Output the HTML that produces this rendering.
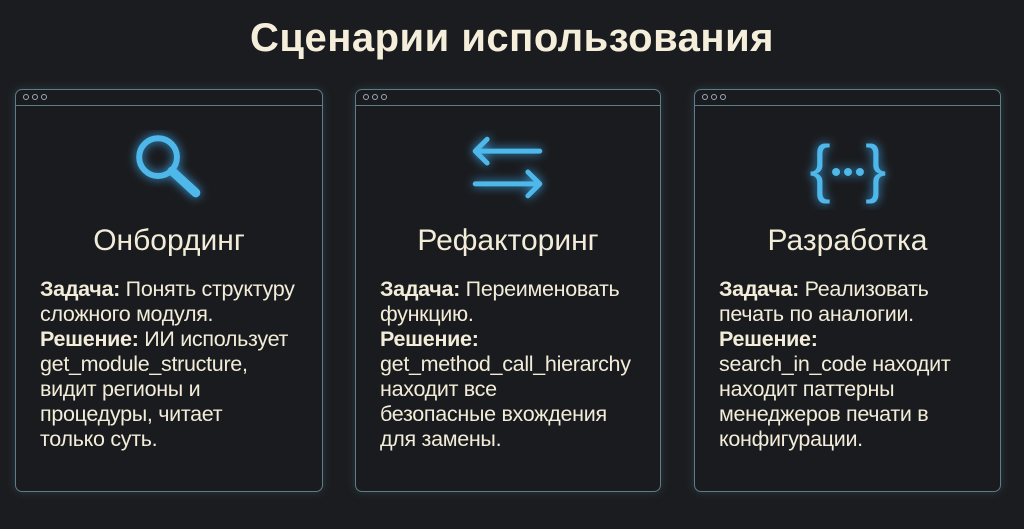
<!DOCTYPE html>
<html><head><meta charset="utf-8"><style>
*{margin:0;padding:0;box-sizing:border-box}
body{width:1024px;height:529px;background:#1b1c1f;font-family:"Liberation Sans","DejaVu Sans",sans-serif;position:relative;overflow:hidden;color:#f2ecd8}
h1{position:absolute;top:16px;left:0;width:1024px;text-align:center;font-size:40px;font-weight:bold;color:#f4eedb;letter-spacing:0.5px}
.card{position:absolute;top:89px;height:403px;border:1.5px solid #5d7d89;border-radius:7px;background:#1a1b1e;box-shadow:0 0 10px rgba(90,150,170,0.25)}
.bar{height:16px;border-bottom:1.5px solid #5d7d89;position:relative}
.dot{position:absolute;top:4px;width:6px;height:6px;border:1px solid #9ab;border-radius:50%}
.icon{position:absolute;top:40px;left:0;width:100%;height:80px}
.t{position:absolute;top:134px;width:100%;text-align:center;font-size:30px;color:#f2ecd8}
.b{position:absolute;top:187px;left:24px;font-size:21.5px;line-height:25px;color:#f2ecd8;letter-spacing:-0.3px}
.b b{font-weight:bold}
</style></head><body>
<h1>Сценарии использования</h1>

<div class="card" style="left:15px;width:308px">
<div class="bar"><span class="dot" style="left:7px"></span><span class="dot" style="left:16px"></span><span class="dot" style="left:25px"></span></div>
<svg class="icon" viewBox="0 0 308 80"><g stroke="#4fb8ea" fill="none" stroke-linecap="round" style="filter:drop-shadow(0 0 5px #3aa0e0)"><circle cx="143" cy="27" r="19" stroke-width="6"/><line x1="157" y1="41" x2="181" y2="63" stroke-width="9"/></g></svg>
<div class="t">Онбординг</div>
<div class="b"><b>Задача:</b> Понять структуру<br>сложного модуля.<br><b>Решение:</b> ИИ использует<br>get_module_structure,<br>видит регионы и<br>процедуры, читает<br>только суть.</div>
</div>

<div class="card" style="left:355px;width:306px">
<div class="bar"><span class="dot" style="left:7px"></span><span class="dot" style="left:16px"></span><span class="dot" style="left:25px"></span></div>
<svg class="icon" viewBox="0 0 306 80"><g stroke="#4fb8ea" fill="none" stroke-width="5" stroke-linecap="round" stroke-linejoin="round" style="filter:drop-shadow(0 0 5px #3aa0e0)"><path d="M120 21 H185 M132 9 L120 21 L132 33"/><path d="M120 54 H185 M173 42 L185 54 L173 66"/></g></svg>
<div class="t">Рефакторинг</div>
<div class="b"><b>Задача:</b> Переименовать<br>функцию.<br><b>Решение:</b><br>get_method_call_hierarchy<br>находит все<br>безопасные вхождения<br>для замены.</div>
</div>

<div class="card" style="left:694px;width:307px">
<div class="bar"><span class="dot" style="left:7px"></span><span class="dot" style="left:16px"></span><span class="dot" style="left:25px"></span></div>
<svg class="icon" viewBox="0 0 307 80"><g style="filter:drop-shadow(0 0 5px #3aa0e0)" fill="#4fb8ea"><text x="126" y="60" text-anchor="middle" font-family="Liberation Sans" font-size="64" fill="#4fb8ea">{</text><text x="182" y="60" text-anchor="middle" font-family="Liberation Sans" font-size="64" fill="#4fb8ea">}</text><circle cx="142" cy="42" r="4"/><circle cx="154" cy="42" r="4"/><circle cx="166" cy="42" r="4"/></g></svg>
<div class="t">Разработка</div>
<div class="b"><b>Задача:</b> Реализовать<br>печать по аналогии.<br><b>Решение:</b><br>search_in_code находит<br>находит паттерны<br>менеджеров печати в<br>конфигурации.</div>
</div>
</body></html>
